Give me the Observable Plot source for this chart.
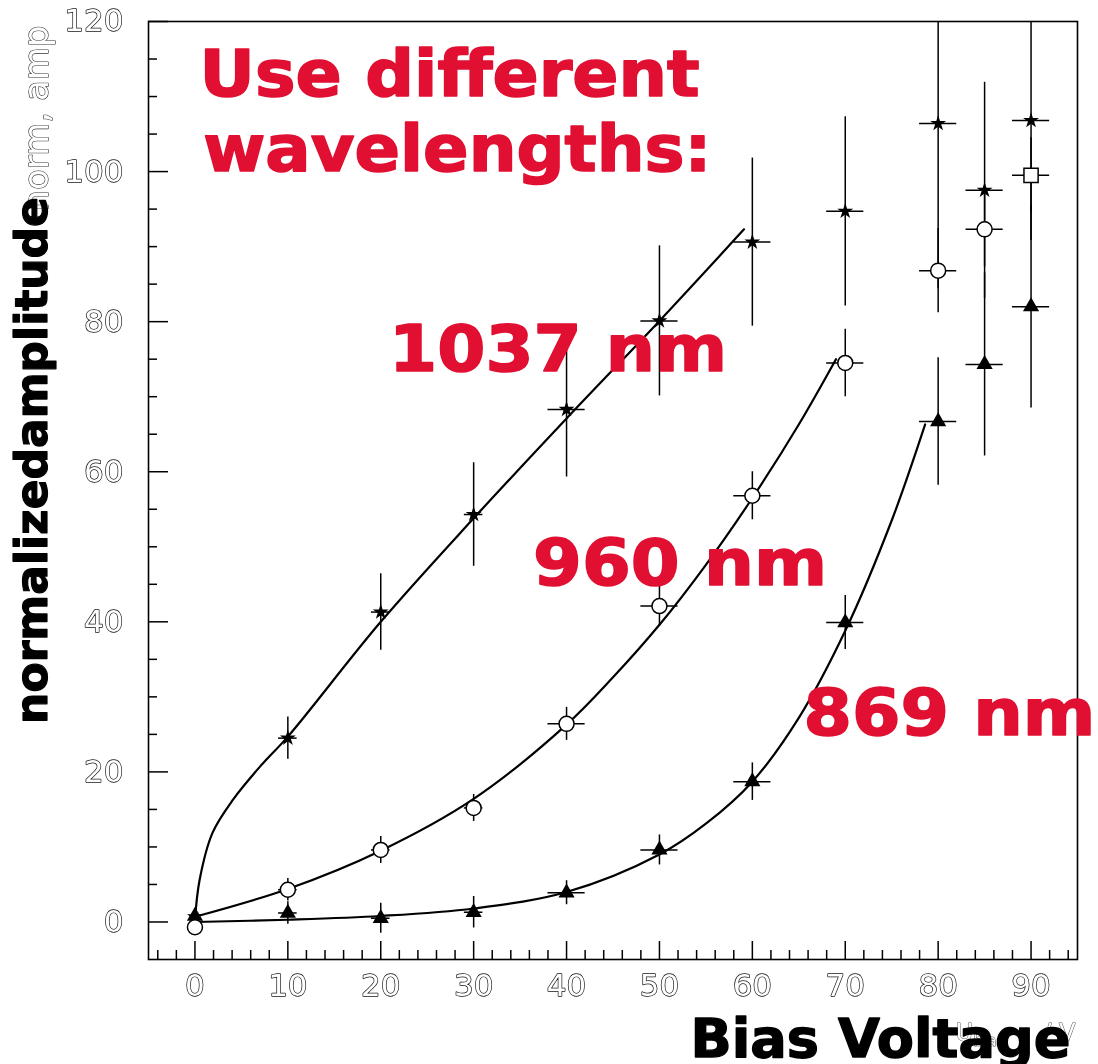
<!DOCTYPE html>
<html><head><meta charset="utf-8">
<script src="https://cdn.jsdelivr.net/npm/d3@7"></script>
<script src="https://cdn.jsdelivr.net/npm/@observablehq/plot@0.6"></script>
<style>html,body{margin:0;padding:0;background:#fff}#chart svg{display:block;will-change:transform}</style>
</head><body><div id="chart"></div>
<script>
// ---- measured points (bias voltage in V, normalized amplitude) ----
const voltage = [0, 10, 20, 30, 40, 50, 60, 70, 80, 85, 90];
const voltageErr = [0.5, 1, 1, 1, 2, 2, 2, 2, 2, 2, 2];

const amp1037 = [0.7, 24.5, 41.3, 54.3, 68.3, 80.1, 90.6, 94.7, 106.4, 97.5, 106.8];
const err1037 = [0.8, 2.8, 5.1, 6.9, 9.0, 10.0, 11.2, 12.6, 22.0, 14.4, 16.0];

const amp960 = [-0.7, 4.3, 9.6, 15.2, 26.4, 42.1, 56.8, 74.5, 86.8, 92.3, 99.5];
const err960 = [1.0, 1.5, 1.8, 1.8, 2.2, 2.7, 3.2, 4.5, 5.6, 5.0, 5.0];
const symbol960 = ["circle", "circle", "circle", "circle", "circle", "circle", "circle", "circle", "circle", "circle", "square"];

const amp869 = [0.8, 1.2, 0.5, 1.3, 3.9, 9.6, 18.7, 39.9, 66.7, 74.3, 82.0];
const err869 = [1.0, 1.5, 2.0, 2.1, 1.6, 2.0, 2.5, 3.6, 8.5, 12.2, 13.5];

// ---- fitted curves ----
const fit1037V = [0, 0.5, 1.9, 4.1, 7, 10, 20, 30, 40, 50, 59.1];
const fit1037A = [0.3, 5.6, 11.9, 16.3, 20.7, 24.7, 40.0, 53.8, 67.1, 80.1, 92.3];
const fit960V = [0, 10, 20, 30, 40, 45, 50, 55, 60, 65, 69];
const fit960A = [0.7, 4.4, 9.5, 16.4, 26.3, 32.6, 39.6, 47.6, 56.5, 66.3, 75.0];
const fit869V = [0, 10, 20, 30, 40, 50, 55, 60, 65, 70, 75, 78.6];
const fit869A = [0, 0.3, 0.8, 1.8, 4.0, 9.0, 13.1, 18.7, 27.2, 38.8, 53.5, 66.3];

// ---- ticks ----
const xMajorTicks = [0, 10, 20, 30, 40, 50, 60, 70, 80, 90];
const xMinorTicks = d3.range(-4, 95, 2).filter(v => v % 10 !== 0);
const yMajorTicks = [0, 20, 40, 60, 80, 100, 120];
const yMinorTicks = d3.range(5, 120, 5).filter(v => v % 20 !== 0);

// ---- texts ----
const annotationText = ["Use different", "wavelengths:", "1037 nm", "960 nm", "869 nm"];
const annotationV = [0.5, 0.9, 20.9, 36.4, 65.5];
const annotationA = [110.1, 100.1, 73.4, 44.9, 24.9];
const yTitle = "normalizedamplitude";
const xTitle = "Bias Voltage";
const yTitleOrig = "norm, amp";
const xTitleOrig = ["U", "bias", "/ V"];

// ---- tables ----
const rows = (amp, err, sym) => voltage.map((v, i) => ({v, a: amp[i], e: err[i], xe: voltageErr[i], s: sym ? sym[i] : null}));
const s1037 = rows(amp1037, err1037);
const s960 = rows(amp960, err960, symbol960);
const s869 = rows(amp869, err869);
const fitRows = (V, A) => V.map((v, i) => ({v, a: A[i]}));
const annotations = annotationText.map((t, i) => ({t, v: annotationV[i], a: annotationA[i]}));

const W = 1098, H = 1064, mL = 148, mT = 21, mR = 21, mB = 105;
const fw = W - mL - mR, fh = H - mT - mB;
const RED = "#e10f31";
const FONT = "DejaVu Sans";

const errMarks = (data) => [
  Plot.ruleX(data, {x: "v", y1: d => d.a - d.e, y2: d => d.a + d.e, stroke: "#000", strokeWidth: 1.5, clip: true}),
  Plot.ruleY(data, {y: "a", x1: d => d.v - d.xe, x2: d => d.v + d.xe, stroke: "#000", strokeWidth: 1.5, clip: true})
];
const fitMark = (V, A) => Plot.line(fitRows(V, A), {x: "v", y: "a", curve: "catmull-rom", stroke: "#000", strokeWidth: 2.2});

const chart = Plot.plot({
  width: W, height: H,
  marginLeft: mL, marginTop: mT, marginRight: mR, marginBottom: mB,
  style: {background: "#fff", fontFamily: FONT, color: "#000"},
  x: {domain: [-5, 95]},
  y: {domain: [-5, 120]},
  marks: [
    // original (grey, hollow) axis titles, partly hidden
    Plot.text([yTitleOrig], {frameAnchor: "left", dx: -101, dy: -372, rotate: -90, textAnchor: "middle", lineAnchor: "bottom",
      fontSize: 34, fill: "#fff", stroke: "#333", strokeWidth: 1.2}),
    Plot.text([xTitleOrig[0]], {frameAnchor: "bottom-right", dx: -122, dy: 81, textAnchor: "start", lineAnchor: "bottom",
      fontSize: 24, fill: "#fff", stroke: "#555", strokeWidth: 1}),
    Plot.text([xTitleOrig[1]], {frameAnchor: "bottom-right", dx: -104, dy: 86, textAnchor: "start", lineAnchor: "bottom",
      fontSize: 15, fill: "#fff", stroke: "#555", strokeWidth: 1}),
    Plot.text([xTitleOrig[2]], {frameAnchor: "bottom-right", dx: -2, dy: 81, textAnchor: "end", lineAnchor: "bottom",
      fontSize: 24, fill: "#fff", stroke: "#555", strokeWidth: 1}),

    Plot.frame({stroke: "#000", strokeWidth: 1.6}),
    Plot.tickY(yMajorTicks, {y: d => d, insetRight: fw - 20, stroke: "#000", strokeWidth: 1.5}),
    Plot.tickY(yMinorTicks, {y: d => d, insetRight: fw - 9, stroke: "#000", strokeWidth: 1.5}),
    Plot.tickX(xMajorTicks, {x: d => d, insetTop: fh - 18, stroke: "#000", strokeWidth: 1.5}),
    Plot.tickX(xMinorTicks, {x: d => d, insetTop: fh - 9, stroke: "#000", strokeWidth: 1.5}),
    Plot.axisY(yMajorTicks, {tickSize: 0, tickPadding: 25, fontSize: 31, fill: "#fff", textStroke: "#111", textStrokeWidth: 1.4, label: null}),
    Plot.axisX(xMajorTicks, {tickSize: 0, tickPadding: 14, fontSize: 31, fill: "#fff", textStroke: "#111", textStrokeWidth: 1.4, label: null}),

    fitMark(fit1037V, fit1037A),
    fitMark(fit960V, fit960A),
    fitMark(fit869V, fit869A),

    ...errMarks(s1037),
    ...errMarks(s960),
    ...errMarks(s869),

    Plot.dot(s1037, {x: "v", y: "a", symbol: "star", r: 5, fill: "#000", stroke: "none"}),
    Plot.dot(s869, {x: "v", y: "a", symbol: "triangle", r: 6, fill: "#000", stroke: "none"}),
    Plot.dot(s960.filter(d => d.s === "circle"), {x: "v", y: "a", symbol: "circle", r: 7.5, fill: "#fff", stroke: "#000", strokeWidth: 1.5}),
    Plot.dot(s960.filter(d => d.s === "square"), {x: "v", y: "a", symbol: "square", r: 8, fill: "#fff", stroke: "#000", strokeWidth: 1.5}),

    // overlay annotations
    Plot.text(annotations, {x: "v", y: "a", text: "t", textAnchor: "start", lineAnchor: "bottom",
      fontSize: 64, fontWeight: "bold", fill: RED, stroke: RED, strokeWidth: 1.6}),
    Plot.text([yTitle], {frameAnchor: "left", dx: -102, dy: -30, rotate: -90, textAnchor: "middle", lineAnchor: "bottom",
      fontSize: 44, fontWeight: "bold", fill: "#000", stroke: "#000", strokeWidth: 1.2}),
    Plot.text([xTitle], {frameAnchor: "bottom-right", dx: -7, dy: 97, textAnchor: "end", lineAnchor: "bottom",
      fontSize: 53, fontWeight: "bold", fill: "#000", stroke: "#000", strokeWidth: 1.4})
  ]
});
document.getElementById("chart").appendChild(chart);

// stretch the heavy overlay lettering horizontally to the widths seen in the reference
const targetWidths = {"Use different": 500, "wavelengths:": 508, "1037 nm": 338, "960 nm": 294, "869 nm": 292, "Bias Voltage": 380};
d3.select(chart).selectAll("text").each(function() {
  const w = targetWidths[this.textContent];
  if (!w) return;
  const box = this.getBBox();
  const len = this.getComputedTextLength();
  if (box.width > 0) {
    this.setAttribute("textLength", (len * w / box.width).toFixed(1));
    this.setAttribute("lengthAdjust", "spacingAndGlyphs");
  }
});
</script>
</body></html>
